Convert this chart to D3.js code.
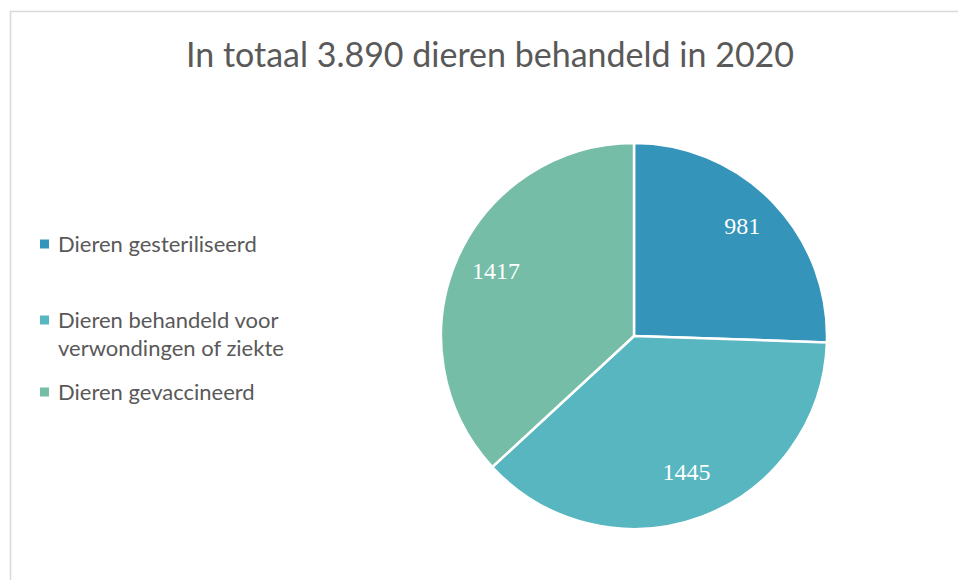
<!DOCTYPE html>
<html>
<head>
<meta charset="utf-8">
<script src="https://cdn.jsdelivr.net/npm/d3@7"></script>
<style>
  body { margin: 0; background: #fff; }
  svg { display: block; }
</style>
</head>
<body>
<div id="chart"></div>
<script>
const title = "In totaal 3.890 dieren behandeld in 2020";
const categories = ["Dieren gesteriliseerd", "Dieren behandeld voor verwondingen of ziekte", "Dieren gevaccineerd"];
const legendLines = [["Dieren gesteriliseerd"], ["Dieren behandeld voor", "verwondingen of ziekte"], ["Dieren gevaccineerd"]];
const values = [981, 1445, 1417];
const colors = ["#3494BA", "#58B6C0", "#75BDA7"];

const width = 958, height = 580;
const svg = d3.select("#chart").append("svg")
  .attr("width", width)
  .attr("height", height);

// chart border (only top and left show inside the picture)
svg.append("rect")
  .attr("x", 10.5).attr("y", 11.5)
  .attr("width", 990).attr("height", 600)
  .attr("fill", "none")
  .attr("stroke", "#d9d9d9")
  .attr("stroke-width", 1.5);

svg.append("text")
  .attr("x", 490).attr("y", 67)
  .attr("text-anchor", "middle")
  .style("font-family", "Lato, 'Open Sans', sans-serif")
  .style("font-size", "34px")
  .style("fill", "#595959")
  .text(title);

const cx = 634, cy = 336, radius = 193;
const data = categories.map((c, i) => ({ name: c, value: values[i], color: colors[i] }));

const pie = d3.pie().value(d => d.value).sort(null);
const arc = d3.arc().innerRadius(0).outerRadius(radius);
const labelArc = d3.arc().innerRadius(radius * 0.78).outerRadius(radius * 0.78);

const g = svg.append("g").attr("transform", `translate(${cx},${cy})`);
const arcs = pie(data);

g.selectAll("path")
  .data(arcs)
  .join("path")
  .attr("d", arc)
  .attr("fill", d => d.data.color)
  .attr("stroke", "#fff")
  .attr("stroke-width", 2.5)
  .attr("stroke-linejoin", "round");

g.selectAll("text.val")
  .data(arcs)
  .join("text")
  .attr("class", "val")
  .attr("transform", d => `translate(${labelArc.centroid(d)})`)
  .attr("text-anchor", "middle")
  .attr("dy", "0.12em")
  .style("font-family", "'Liberation Serif', 'DejaVu Serif', serif")
  .style("font-size", "24px")
  .style("fill", "#fff")
  .text(d => d.data.value);

// legend
const legendY = [244, 320, 392];
const legend = svg.append("g");
legendLines.forEach((lines, i) => {
  legend.append("rect")
    .attr("x", 40).attr("y", legendY[i] - 4.5)
    .attr("width", 9).attr("height", 9)
    .attr("fill", colors[i]);
  lines.forEach((line, j) => {
    legend.append("text")
      .attr("x", 58).attr("y", legendY[i] + j * 28)
      .attr("dy", "0.35em")
      .style("font-family", "Lato, 'Open Sans', sans-serif")
      .style("font-size", "22px")
      .style("fill", "#595959")
      .text(line);
  });
});
</script>
</body>
</html>
